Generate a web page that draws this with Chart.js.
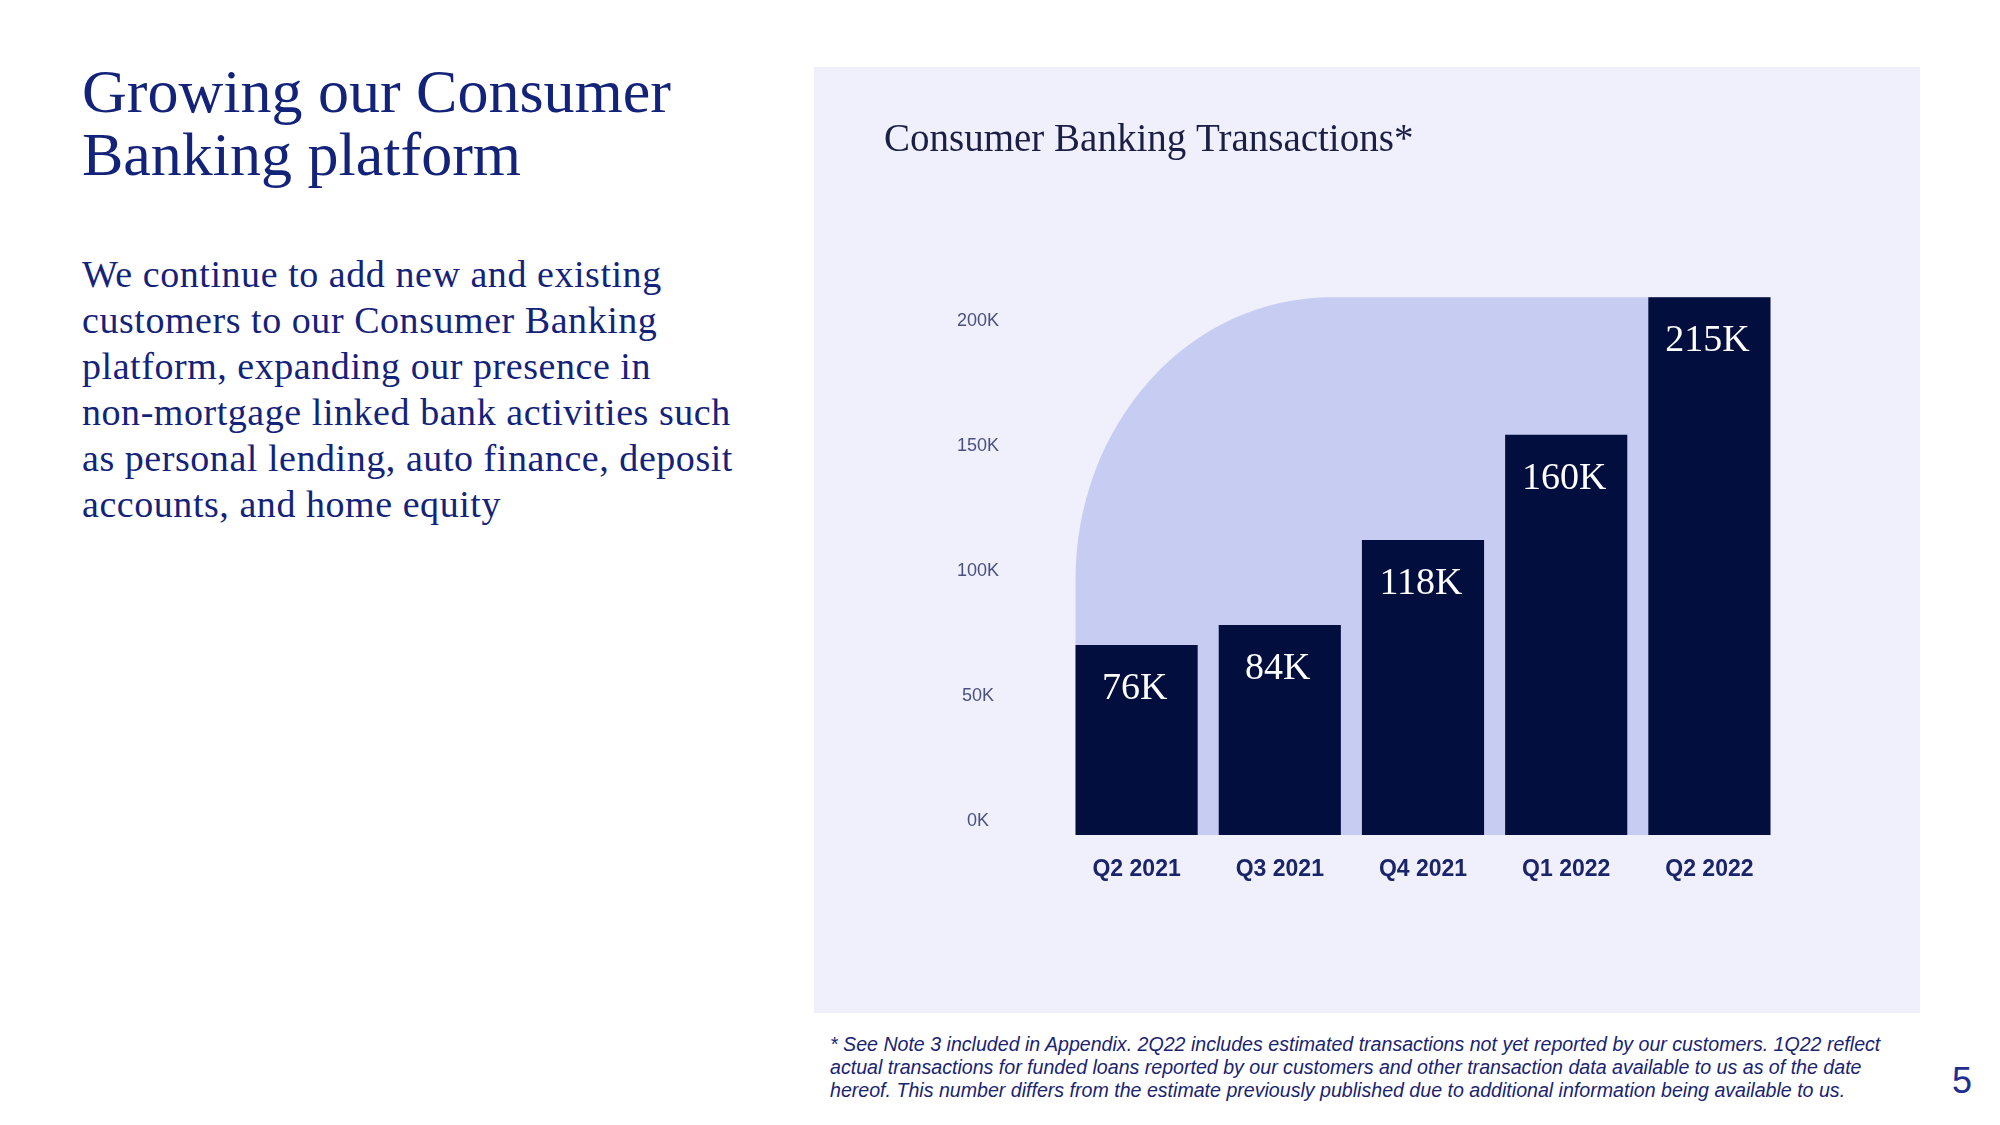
<!DOCTYPE html>
<html>
<head>
<meta charset="utf-8">
<script src="https://cdn.jsdelivr.net/npm/chart.js@4.4.1/dist/chart.umd.min.js"></script>
<style>
  body { margin: 0; width: 2000px; height: 1125px; background: #fff; position: relative; overflow: hidden; font-family: "Liberation Serif", serif; }
  #heading { position: absolute; left: 82px; top: 60px; margin: 0; font-size: 62px; line-height: 63px; font-weight: normal; color: #14237a; }
  #blurb { position: absolute; left: 82px; top: 251px; margin: 0; font-size: 38px; line-height: 46px; letter-spacing: 0.55px; color: #14237a; }
  #panel { position: absolute; left: 814px; top: 67px; width: 1106px; height: 946px; background: #eff0fb; }
  #note { position: absolute; left: 830px; top: 1033px; width: 1130px; margin: 0; font-family: "Liberation Sans", sans-serif; font-style: italic; font-size: 19.6px; line-height: 23px; color: #1a2470; }
  #pagenum { position: absolute; left: 1952px; top: 1063px; font-family: "Liberation Sans", sans-serif; font-size: 36px; line-height: 36px; color: #1f2f8f; }
</style>
</head>
<body>
<h1 id="heading">Growing our Consumer<br>Banking platform</h1>
<p id="blurb">We continue to add new and existing<br>customers to our Consumer Banking<br>platform, expanding our presence in<br>non-mortgage linked bank activities such<br>as personal lending, auto finance, deposit<br>accounts, and home equity</p>
<div id="panel"><canvas id="chart" width="1106" height="946"></canvas></div>
<p id="note">* See Note 3 included in Appendix. 2Q22 includes estimated transactions not yet reported by our customers. 1Q22 reflect<br>actual transactions for funded loans reported by our customers and other transaction data available to us as of the date<br>hereof. This number differs from the estimate previously published due to additional information being available to us.</p>
<div id="pagenum">5</div>

<script>
// data
const categories = ["Q2 2021", "Q3 2021", "Q4 2021", "Q1 2022", "Q2 2022"];
const transactions = [76, 84, 118, 160, 215]; // thousands
const yTicks = [0, 50, 100, 150, 200];
const chartTitle = "Consumer Banking Transactions*";

// light backdrop behind the bars + value labels inside them
const barDecor = {
    id: "barDecor",
    beforeDatasetsDraw(chart) {
        const ctx = chart.ctx;
        const y = chart.scales.y;
        const bars = chart.getDatasetMeta(0).data;
        const first = bars[0];
        const last = bars[bars.length - 1];
        const left = first.x - first.width / 2;
        const right = last.x + last.width / 2;
        const top = y.getPixelForValue(Math.max(...transactions));
        const bottom = y.getPixelForValue(0);
        const rx = 255, ry = 282;

        ctx.save();
        ctx.fillStyle = "#c7ccf2";
        ctx.beginPath();
        ctx.moveTo(left, bottom);
        ctx.lineTo(left, top + ry);
        ctx.ellipse(left + rx, top + ry, rx, ry, 0, Math.PI, Math.PI * 1.5);
        ctx.lineTo(right, top);
        ctx.lineTo(right, bottom);
        ctx.closePath();
        ctx.fill();
        ctx.restore();
    },
    afterDatasetsDraw(chart) {
        const ctx = chart.ctx;
        const bars = chart.getDatasetMeta(0).data;
        ctx.save();
        ctx.fillStyle = "#ffffff";
        ctx.font = "38px 'Liberation Serif'";
        ctx.textAlign = "center";
        ctx.textBaseline = "middle";
        bars.forEach((bar, i) => {
            ctx.fillText(transactions[i] + "K", bar.x - 2, bar.y + 44);
        });
        ctx.restore();
    }
};

const chart = new Chart(document.getElementById("chart"), {
    type: "bar",
    data: {
        labels: categories,
        datasets: [{
            data: transactions,
            backgroundColor: "#020e3e",
            categoryPercentage: 1,
            barPercentage: 0.853
        }]
    },
    options: {
        responsive: false,
        devicePixelRatio: 1,
        animation: false,
        layout: { padding: { left: 70, right: 139, top: 0, bottom: 118 } },
        plugins: {
            legend: { display: false },
            tooltip: { enabled: false },
            title: {
                display: true,
                text: chartTitle,
                align: "start",
                color: "#1b1f45",
                font: { family: "Liberation Serif", size: 39, weight: "normal" },
                padding: { top: 50, bottom: 121 }
            }
        },
        scales: {
            x: {
                grid: { display: false, drawTicks: false },
                border: { display: false },
                ticks: {
                    color: "#1a2468",
                    font: { family: "Liberation Sans", size: 23, weight: "bold" },
                    padding: 21
                },
                afterFit(scale) { scale.height = 60; }
            },
            y: {
                min: 0,
                max: 220,
                grid: { display: false, drawTicks: false },
                border: { display: false },
                afterBuildTicks(scale) {
                    scale.ticks = yTicks.map(v => ({ value: v }));
                },
                ticks: {
                    color: "#4a5080",
                    font: { family: "Liberation Sans", size: 18 },
                    padding: 66,
                    crossAlign: "center",
                    labelOffset: -14,
                    callback: v => v + "K"
                },
                afterFit(scale) { scale.width = 181; }
            }
        }
    },
    plugins: [barDecor]
});
</script>
</body>
</html>
